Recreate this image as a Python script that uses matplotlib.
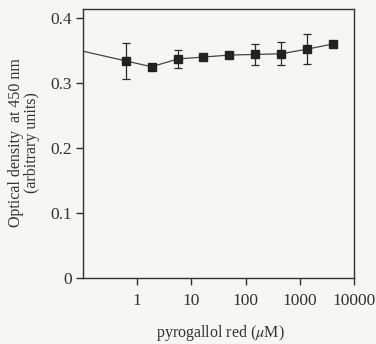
import matplotlib
matplotlib.use("Agg")
import matplotlib.pyplot as plt
import numpy as np

# data
conc = [0.0686, 0.617, 1.85, 5.56, 16.7, 50, 150, 450, 1350, 4050]
od = [0.352, 0.334, 0.325, 0.337, 0.340, 0.343, 0.344, 0.345, 0.352, 0.360]
err_lo = [0, 0.028, 0, 0.014, 0, 0, 0.016, 0.017, 0.022, 0]
err_hi = [0, 0.028, 0, 0.014, 0, 0, 0.016, 0.018, 0.023, 0]
xticks = [1, 10, 100, 1000, 10000]
xticklabels = ["1", "10", "100", "1000", "10000"]
yticks = [0, 0.1, 0.2, 0.3, 0.4]
yticklabels = ["0", "0.1", "0.2", "0.3", "0.4"]

plt.rcParams['font.family'] = ['Liberation Serif', 'DejaVu Serif']
plt.rcParams['mathtext.fontset'] = 'stix'

bg = '#f6f6f5'
fig = plt.figure(figsize=(3.76, 3.44), dpi=100, facecolor=bg)
ax = fig.add_axes([0.221, 0.192, 0.72, 0.782])
ax.set_facecolor(bg)

ink = '#2a2a2a'
ax.plot(conc, od, '-', color='#444444', lw=0.9, zorder=2)
ax.errorbar(conc, od, yerr=[err_lo, err_hi], fmt='none', ecolor=ink,
            elinewidth=0.9, capsize=3, capthick=0.9, zorder=2)
ax.plot(conc, od, 's', color='#222222', ms=5.8, zorder=3)

ax.set_xscale('log')
ax.set_xlim(0.1, 10000)
ax.set_ylim(0, 0.414)
ax.set_xticks(xticks)
ax.set_xticklabels(xticklabels)
ax.xaxis.set_minor_locator(matplotlib.ticker.NullLocator())
ax.set_yticks(yticks)
ax.set_yticklabels(yticklabels)

for s in ax.spines.values():
    s.set_color('#333333')
    s.set_linewidth(1.0)
ax.tick_params(axis='both', direction='out', length=5, width=1.0,
               colors='#333333', labelsize=12.5, labelcolor='#333333')
ax.tick_params(axis='x', pad=6)
ax.tick_params(axis='y', pad=3)

fig.text(0.585, 1 - 333 / 344, r'pyrogallol red ($\mathit{\mu}$M)', fontsize=11.5,
         color='#333333', ha='center', va='center')
fig.text(24 / 376, 1 - 143 / 344, 'Optical density  at 450 nm\n(arbitrary units)',
         fontsize=11.5, color='#333333', rotation=90, ha='center', va='center',
         linespacing=1.05, multialignment='center')

fig.savefig('out.png', dpi=100, facecolor=bg)
